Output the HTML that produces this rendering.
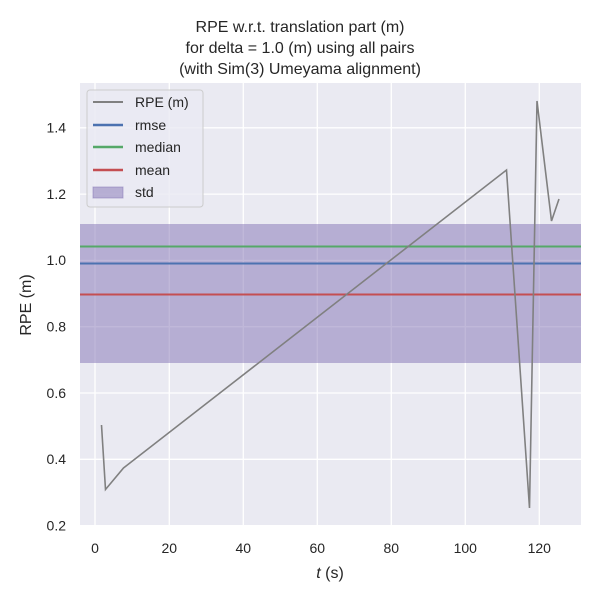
<!DOCTYPE html>
<html><head><style>body{margin:0;background:#fff}</style></head><body>
<svg width="600" height="600" xmlns="http://www.w3.org/2000/svg" font-family="Liberation Sans, DejaVu Sans, sans-serif">
<rect x="80" y="83" width="501" height="443" fill="#eaeaf2"/>
<g stroke="#fff" stroke-width="1.3">
<line x1="95" y1="83" x2="95" y2="526"/><line x1="169.3" y1="83" x2="169.3" y2="526"/><line x1="243.3" y1="83" x2="243.3" y2="526"/><line x1="317.3" y1="83" x2="317.3" y2="526"/><line x1="391.3" y1="83" x2="391.3" y2="526"/><line x1="465.3" y1="83" x2="465.3" y2="526"/><line x1="539.3" y1="83" x2="539.3" y2="526"/>
<line x1="80" y1="525.6" x2="581" y2="525.6"/><line x1="80" y1="459.3" x2="581" y2="459.3"/><line x1="80" y1="393" x2="581" y2="393"/><line x1="80" y1="326.7" x2="581" y2="326.7"/><line x1="80" y1="260.4" x2="581" y2="260.4"/><line x1="80" y1="194.1" x2="581" y2="194.1"/><line x1="80" y1="127.8" x2="581" y2="127.8"/>
</g>
<rect x="80" y="224" width="501" height="139" fill="#8172b3" fill-opacity="0.5"/>
<line x1="80" y1="246.5" x2="581" y2="246.5" stroke="#55a868" stroke-width="2"/>
<line x1="80" y1="263.5" x2="581" y2="263.5" stroke="#4c72b0" stroke-width="2"/>
<line x1="80" y1="294.5" x2="581" y2="294.5" stroke="#c44e52" stroke-width="2"/>
<polyline fill="none" stroke="#808080" stroke-width="1.6" points="101.5,425 105.5,489.5 123.5,468 506.5,170 529.5,508 537,101 551.5,221 559,199"/>
<g font-size="14" fill="#262626">
<text x="300" y="32" text-anchor="middle" font-size="16">RPE w.r.t. translation part (m)</text>
<text x="300" y="53" text-anchor="middle" font-size="16">for delta = 1.0 (m) using all pairs</text>
<text x="300" y="74" text-anchor="middle" font-size="16">(with Sim(3) Umeyama alignment)</text>
<g text-anchor="middle">
<text x="95" y="553">0</text><text x="169.3" y="553">20</text><text x="243.3" y="553">40</text><text x="317.3" y="553">60</text><text x="391.3" y="553">80</text><text x="465.3" y="553">100</text><text x="539.3" y="553">120</text>
</g>
<g text-anchor="end">
<text x="66" y="530.5">0.2</text><text x="66" y="464">0.4</text><text x="66" y="398">0.6</text><text x="66" y="331.5">0.8</text><text x="66" y="265">1.0</text><text x="66" y="199">1.2</text><text x="66" y="132.5">1.4</text>
</g>
<text x="330" y="578" text-anchor="middle" font-size="16"><tspan font-style="italic">t</tspan> (s)</text>
<text transform="translate(31,305) rotate(-90)" text-anchor="middle" font-size="16">RPE (m)</text>
</g>
<rect x="87" y="90" width="116" height="117" rx="3" fill="#eaeaf2" fill-opacity="0.8" stroke="#ccc"/>
<line x1="93" y1="102" x2="123" y2="102" stroke="#808080" stroke-width="2"/>
<line x1="93" y1="125" x2="123" y2="125" stroke="#4c72b0" stroke-width="2.5"/>
<line x1="93" y1="147" x2="123" y2="147" stroke="#55a868" stroke-width="2.5"/>
<line x1="93" y1="170" x2="123" y2="170" stroke="#c44e52" stroke-width="2.5"/>
<rect x="93" y="187" width="30" height="11" fill="#8172b3" fill-opacity="0.5" stroke="#8172b3" stroke-opacity="0.5"/>
<g font-size="14" fill="#262626">
<text x="135" y="107">RPE (m)</text><text x="135" y="130">rmse</text><text x="135" y="152">median</text><text x="135" y="175">mean</text><text x="135" y="197">std</text>
</g>
</svg>
</body></html>
